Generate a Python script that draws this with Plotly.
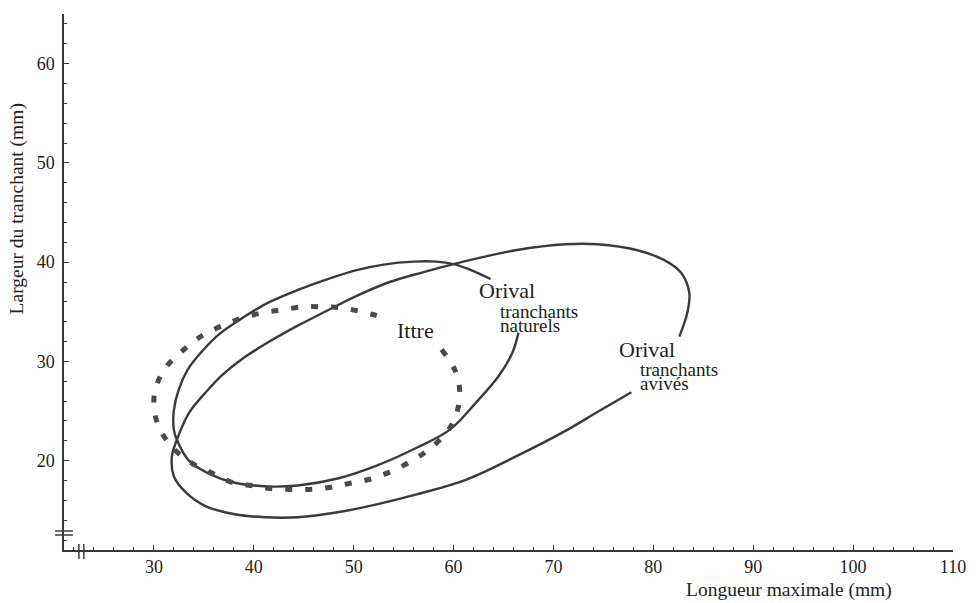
import plotly.graph_objects as go

# --- Data (mm) ---
# Orival, tranchants naturels (open ellipse, gap at the label)
naturels_x = [66.5, 65.9, 64.5, 62.2, 59.6, 56.3, 52.3, 48.4, 44.4, 41.4, 38.0, 35.5,
              33.5, 32.3, 32.0, 32.0, 32.5, 33.4, 34.8, 36.6, 38.9, 41.4, 44.4, 47.7,
              50.3, 53.0, 56.0, 58.3, 60.0, 62.0, 63.7]
naturels_y = [32.9, 30.9, 28.5, 25.8, 23.1, 21.3, 19.5, 18.2, 17.5, 17.4, 17.8, 18.7,
              20.0, 22.1, 23.1, 25.1, 27.2, 29.2, 31.0, 32.8, 34.4, 35.9, 37.2, 38.4,
              39.2, 39.75, 40.05, 40.05, 39.8, 39.1, 38.3]

# Orival, tranchants avivés (open ellipse, gap at the label)
avives_x = [82.6, 83.4, 83.6, 82.8, 81.1, 78.4, 74.4, 71.2, 66.2, 62.9, 60.0, 57.0,
            53.6, 50.3, 47.7, 44.4, 41.4, 38.9, 36.8, 35.2, 33.5, 32.3, 31.8, 32.0,
            33.2, 35.2, 38.1, 41.1, 44.4, 48.4, 52.3, 56.3, 61.3, 66.2, 71.2, 74.4, 77.8]
avives_y = [32.5, 34.9, 36.9, 38.9, 40.2, 41.2, 41.8, 41.8, 41.2, 40.5, 39.8, 39.0,
            38.0, 36.6, 35.3, 33.6, 31.9, 30.3, 28.6, 26.9, 24.8, 22.1, 20.4, 18.4,
            16.8, 15.4, 14.6, 14.3, 14.3, 14.8, 15.6, 16.6, 18.1, 20.4, 23.0, 24.9, 26.9]

# Ittre (dotted ellipse, gap at the label)
ittre_x = [58.8, 60.1, 60.6, 60.4, 59.5, 57.5, 55.5, 53.5, 51.5, 49.5, 47.6, 45.6,
           43.6, 41.6, 39.7, 37.6, 35.7, 33.7, 31.8, 30.5, 30.0, 30.2, 31.2, 33.0,
           35.0, 37.1, 38.9, 40.9, 42.9, 44.9, 46.9, 48.8, 50.8, 52.8]
ittre_y = [31.2, 29.2, 27.2, 25.1, 23.1, 21.1, 19.8, 18.8, 18.1, 17.7, 17.3, 17.1,
           17.1, 17.2, 17.5, 17.9, 18.8, 19.8, 21.4, 23.4, 25.4, 27.4, 29.4, 31.2,
           32.7, 33.7, 34.4, 34.9, 35.2, 35.5, 35.5, 35.4, 35.0, 34.5]

x_range = [21, 110]
y_range = [11, 65]

FONT = "Liberation Serif"
INK = "#3a3a3a"
TXT = "#222222"

fig = go.Figure()
for xs, ys in ((naturels_x, naturels_y), (avives_x, avives_y)):
    fig.add_trace(go.Scatter(x=xs, y=ys, mode="lines",
                             line=dict(color=INK, width=2.4, shape="spline", smoothing=1.0),
                             hoverinfo="skip", showlegend=False))
fig.add_trace(go.Scatter(x=ittre_x, y=ittre_y, mode="lines",
                         line=dict(color="#4a4a4a", width=5, dash="7px,13px",
                                   shape="spline", smoothing=1.0),
                         hoverinfo="skip", showlegend=False))


def lab(text, x, y, size):
    fig.add_annotation(x=x, y=y, text=text, showarrow=False, xanchor="left",
                       yanchor="middle", font=dict(family=FONT, size=size, color=TXT))


lab("Orival", 62.3, 37.1, 22)
lab("tranchants", 64.4, 35.0, 19)
lab("naturels", 64.4, 33.6, 19)
lab("Ittre", 54.1, 33.1, 22)
lab("Orival", 76.4, 31.2, 22)
lab("tranchants", 78.5, 29.2, 19)
lab("avivés", 78.5, 27.8, 19)

# axis titles (plot area: 897 x 536 px)
PW, PH = 897, 536
fig.add_annotation(xref="paper", yref="paper", x=(796 - 64) / PW, y=-(590 - 550) / PH,
                   text="Longueur maximale (mm)", showarrow=False, xanchor="center",
                   yanchor="middle", font=dict(family=FONT, size=19.5, color=TXT))
fig.add_annotation(xref="paper", yref="paper", x=-(64 - 17) / PW, y=(550 - 209) / PH,
                   text="Largeur du tranchant (mm)", showarrow=False, textangle=-90,
                   xanchor="center", yanchor="middle",
                   font=dict(family=FONT, size=19.5, color=TXT))

# axis break marks near the origin
for up in (15, 19):
    fig.add_shape(type="line", xref="paper", yref="paper",
                  x0=-9 / PW, x1=9 / PW, y0=up / PH, y1=up / PH,
                  line=dict(color=INK, width=1.5))
for right in (15, 20):
    fig.add_shape(type="line", xref="paper", yref="paper",
                  x0=right / PW, x1=right / PW, y0=-9 / PH, y1=6 / PH,
                  line=dict(color=INK, width=1.5))

axis_common = dict(showgrid=False, zeroline=False, showline=True, linecolor=INK,
                   linewidth=1.5, ticks="inside", ticklen=5, tickwidth=1.2,
                   tickcolor=INK, dtick=10, tick0=0,
                   tickfont=dict(family=FONT, size=18, color=TXT),
                   minor=dict(dtick=2, tick0=0, ticks="inside", ticklen=3,
                              tickwidth=1, tickcolor=INK))

fig.update_xaxes(range=x_range, **axis_common)
fig.update_yaxes(range=y_range, ticklabelstandoff=4, **axis_common)

fig.update_layout(width=978, height=603, margin=dict(l=64, r=17, t=14, b=53),
                  plot_bgcolor="white", paper_bgcolor="white")

fig.write_html("out.html")
